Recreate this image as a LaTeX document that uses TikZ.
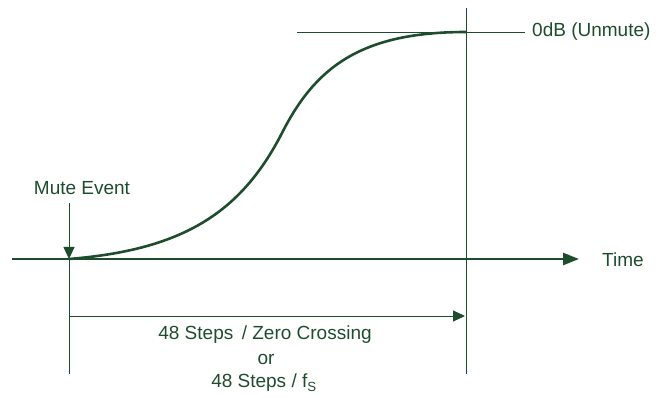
\documentclass[tikz,border=0pt]{standalone}
\usepackage{fontspec}
\setmainfont{Liberation Sans}
\usetikzlibrary{arrows.meta}
\definecolor{dg}{RGB}{30,77,45}
\tikzset{
  thin line/.style={draw=dg, line width=0.9pt},
  thick line/.style={draw=dg, line width=2.6pt},
  lbl/.style={text=dg, font=\fontsize{19}{22}\selectfont, inner sep=0pt},
  tip/.style={-{Triangle[length=12pt,width=11pt,fill=dg]}}
}
\begin{document}
\begin{tikzpicture}[x=1pt,y=-1pt]
\useasboundingbox (0,0) rectangle (659,398);
% coordinates
\coordinate (axL) at (12,259);
\coordinate (axR) at (579,259);
\coordinate (m0) at (69,259);
\coordinate (mTop) at (69,203);
\coordinate (mBot) at (69,374);
\coordinate (rTop) at (466,8);
\coordinate (rBot) at (466,374);
\coordinate (topL) at (297,32);
\coordinate (topR) at (525,32);
\coordinate (bL) at (69,316);
\coordinate (bR) at (465,316);
\coordinate (infl) at (282,133);
\coordinate (cEnd) at (466,32);
% labels
\node[lbl, anchor=west] (unmute) at (532,32) {0dB (Unmute)};
\node[lbl] (mute) at (82,188) {Mute Event};
\node[lbl, anchor=west] (time) at (602,260) {Time};
\node[lbl] (l1) at (265,335) {48 Steps \,/ Zero Crossing};
\node[lbl] (l2) at (266,359) {or};
\node[lbl] (l3) at (264,383) {48 Steps / f\textsubscript{S}};
% thin lines
\draw[thin line] (topL) -- (topR);
\draw[thin line] (rTop) -- (rBot);
\draw[thin line] (m0) -- (mBot);
\draw[thin line, tip] (mTop) -- (m0);
\draw[thin line, tip] (bL) -- (bR);
% curve
\draw[thick line, line cap=round] (m0) .. controls (180,250) and (240,215) .. (infl)
  .. controls (315,68) and (360,32) .. (cEnd);
% axis
\draw[thick line, -{Triangle[length=16pt,width=12pt,fill=dg]}] (axL) -- (axR);
\end{tikzpicture}
\end{document}
